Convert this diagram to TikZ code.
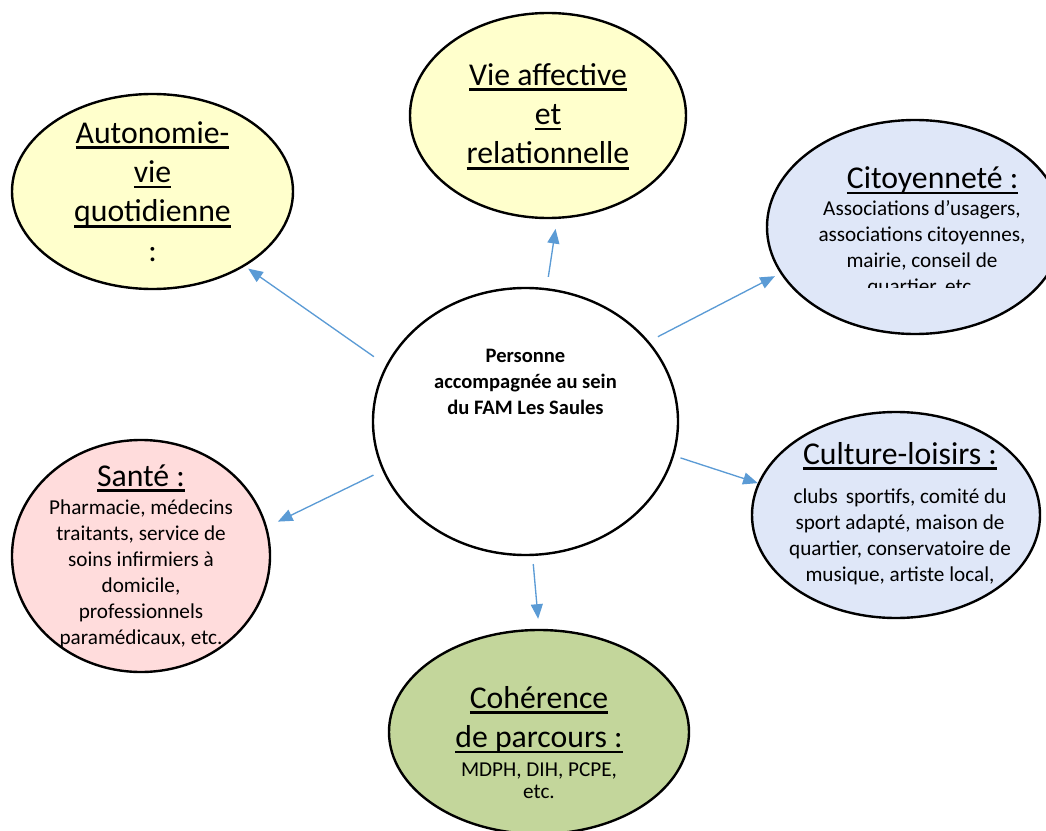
\documentclass[tikz,border=0pt]{standalone}
\usepackage{fontspec}
\setmainfont{Carlito}
\usetikzlibrary{shapes.geometric,arrows.meta}
\definecolor{bulleJaune}{HTML}{FFFFCC}
\definecolor{bulleBleue}{HTML}{DFE7F8}
\definecolor{bulleRose}{HTML}{FFDCDC}
\definecolor{bulleVerte}{HTML}{C3D69B}
\definecolor{fleche}{HTML}{5B9BD5}
\newcommand{\souligne}[1]{\setbox0=\hbox{#1}\rlap{\rule[-4.3pt]{\wd0}{2pt}}\box0}
\newcommand{\titre}{\fontsize{23.8}{29.5}\selectfont}
\newcommand{\corps}{\fontsize{15.9}{19.5}\selectfont}

\begin{document}
\begin{tikzpicture}[x=0.75pt,y=-0.75pt]
\useasboundingbox (0,0) rectangle (1046,831);

\begin{scope}[every node/.style={ellipse,draw=black,line width=1.8pt,inner sep=0pt}]
	\node[minimum width=228.75pt, minimum height=200.25pt] (ctr) at (525.5,421.5) {};
	\node[fill=bulleJaune, minimum width=210.75pt, minimum height=146.25pt] (auto) at (152.5,191.5) {};
	\node[fill=bulleJaune, minimum width=207pt, minimum height=153.75pt] (vie) at (548,115.5) {};
	\node[fill=bulleBleue, minimum width=222pt, minimum height=160.5pt] (cit) at (915,227) {};
	\node[fill=bulleBleue, minimum width=216pt, minimum height=154.5pt] (cul) at (896,515) {};
	\node[fill=bulleRose, minimum width=193.5pt, minimum height=174pt] (san) at (141,556) {};
	\node[fill=bulleVerte, minimum width=225pt, minimum height=153pt] (coh) at (539,732) {};
\end{scope}

\begin{scope}[every node/.style={align=center,inner sep=0pt,font=\corps}]
	\node[font=\bfseries\fontsize{15.4}{19.5}\selectfont] (ctrT) at (525.5,382.4) {Personne\\accompagnée au sein\\du FAM Les Saules};
	\node[font=\titre] (autoT) at (152.5,191.5) {\souligne{Autonomie-}\\\souligne{vie}\\\souligne{quotidienne}\\:};
	\node[font=\titre] (vieT) at (548,116.4) {\souligne{Vie affective}\\\souligne{et}\\\souligne{relationnelle}};
	\begin{scope}
		\clip (700,100) rectangle (1046,287);
		\node (citT) at (922,231.8) {{\titre\hspace*{16pt}\souligne{Citoyenneté :}}\\[0.5pt]Associations d’usagers,\\associations citoyennes,\\mairie, conseil de\\quartier, etc.};
	\end{scope}
	\node (culT) at (900,513.4) {{\titre\souligne{Culture-loisirs :}}\\[10pt]clubs\hspace{6pt}sportifs, comité du\\sport adapté, maison de\\quartier, conservatoire de\\musique, artiste local,};
	\node (sanT) at (141,556) {{\titre\souligne{Santé :}}\\[1.5pt]Pharmacie, médecins\\traitants, service de\\soins infirmiers à\\domicile,\\professionnels\\paramédicaux, etc.};
	\node[font=\titre] (cohT) at (539,742.5) {\souligne{Cohérence}\\\souligne{de parcours :}\\[-7.8pt]{\corps MDPH, DIH, PCPE,}\\[-13pt]{\corps etc.}};
\end{scope}

\begin{scope}[every edge/.style={draw=fleche,line width=1pt}]
	\path [-{Triangle[length=11pt,width=9pt]}] (ctr.158) edge[shorten <=11pt, shorten >=3pt] (auto.-39);
	\path [-{Triangle[length=11pt,width=9pt]}] (ctr.81.5) edge[shorten <=8.5pt, shorten >=7.5pt] (vie.-85.4);
	\path [-{Triangle[length=11pt,width=9pt]}] (ctr.33.2) edge[shorten <=7.5pt, shorten >=4.5pt] (cit.-161.4);
	\path [-{Triangle[length=11pt,width=9pt]}] (ctr.-13.4) edge[shorten <=5pt, shorten >=0pt] (cul.167.7);
	\path [-{Triangle[length=11pt,width=9pt]}] (ctr.-161.7) edge[shorten <=7.5pt, shorten >=9pt] (san.13.6);
	\path [-{Triangle[length=11pt,width=9pt]}] (ctr.-87.8) edge[shorten <=6pt, shorten >=7.5pt] (coh.90);
\end{scope}
\end{tikzpicture}
\end{document}
